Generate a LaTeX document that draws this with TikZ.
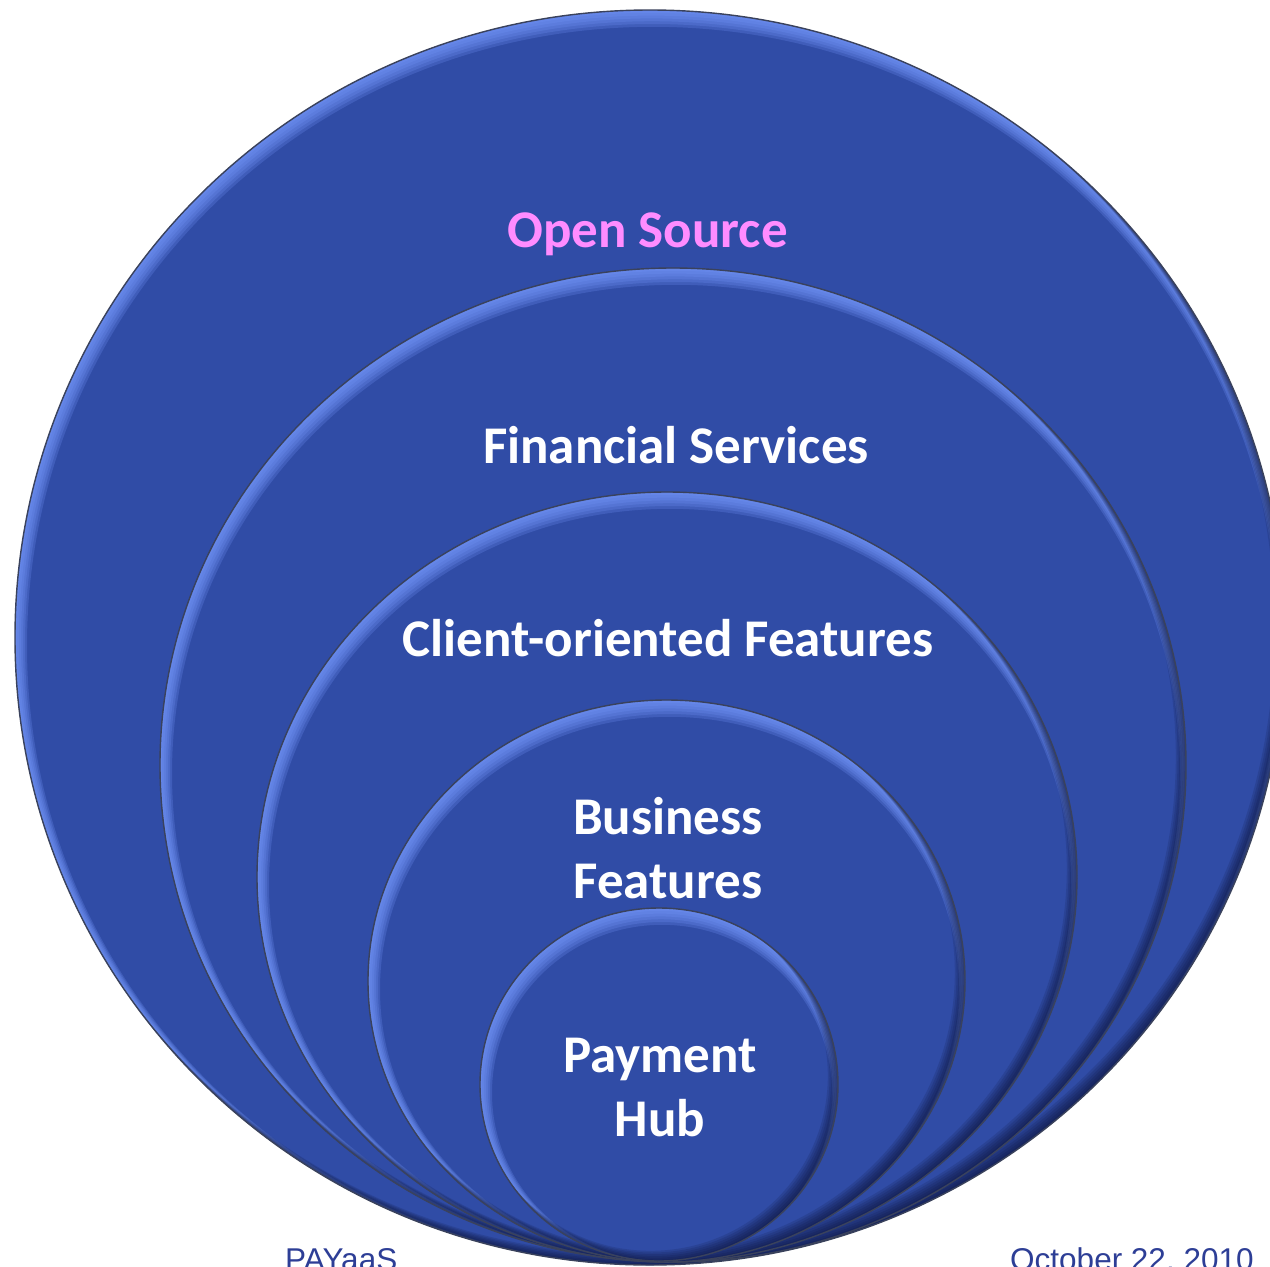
\documentclass[tikz,border=0pt]{standalone}
\usepackage{fontspec}
\setmainfont{Carlito}
\newfontfamily\footfont{Liberation Sans}
\definecolor{basefill}{RGB}{48,76,166}
\definecolor{hilite}{RGB}{115,150,250}
\definecolor{shadecol}{RGB}{10,16,50}
\definecolor{rimcol}{RGB}{58,66,92}
\definecolor{pinktext}{RGB}{255,140,255}
\definecolor{footcol}{RGB}{45,62,150}
\tikzset{
  lbl/.style={text=white, font=\bfseries\fontsize{53}{63}\selectfont, anchor=base, inner sep=0pt},
  foot/.style={text=footcol, font=\footfont\fontsize{31.5}{38}\selectfont, anchor=base west, inner sep=0pt},
  rim/.style={draw=rimcol, line width=1.4pt}
}
\newcommand\bevelellipse[4]{%
  \begin{scope}
    \clip (#1,#2) ellipse [x radius=#3, y radius=#4];
    \fill[basefill] (#1,#2) ellipse [x radius=#3, y radius=#4];
    \foreach \k in {1,...,6}{%
      \pgfmathsetmacro\hx{#1+0.5*\k}%
      \pgfmathsetmacro\hy{#2+1.4*\k}%
      \pgfmathsetmacro\hrx{#3-1.5*\k}%
      \pgfmathsetmacro\hry{#4-1.4*\k}%
      \fill[hilite, opacity=0.24, even odd rule]
        (#1,#2) ellipse [x radius=#3, y radius=#4]
        (\hx,\hy) ellipse [x radius=\hrx, y radius=\hry];
    }
    \foreach \k in {1,...,6}{%
      \pgfmathsetmacro\sx{#1-1.4*\k}%
      \pgfmathsetmacro\sy{#2-1.4*\k}%
      \pgfmathsetmacro\srx{#3-0.3*\k}%
      \pgfmathsetmacro\sry{#4-0.3*\k}%
      \fill[shadecol, opacity=0.14, even odd rule]
        (#1,#2) ellipse [x radius=#3, y radius=#4]
        (\sx,\sy) ellipse [x radius=\srx, y radius=\sry];
    }
  \end{scope}
  \draw[rim] (#1,#2) ellipse [x radius=#3, y radius=#4];
}
\begin{document}
\begin{tikzpicture}[x=1pt,y=-1pt]
  \useasboundingbox (0,0) rectangle (1270,1267);
  \fill[white] (0,0) rectangle (1270,1267);
  % nested circles, outermost first
  \bevelellipse{650}{637.5}{635}{627.5}
  \bevelellipse{673}{765}{513}{497}
  \bevelellipse{667}{877}{410}{385}
  \bevelellipse{666.5}{981}{298.5}{281}
  \bevelellipse{659}{1084.5}{179}{176.5}
  % labels
  \node[lbl, text=pinktext] (open) at (647.5,247) {Open Source};
  \node[lbl] (fin) at (676,463) {Financial Services};
  \node[lbl] (client) at (668,656) {Client-oriented Features};
  \node[lbl] (bus1) at (668,834) {Business};
  \node[lbl] (bus2) at (668,898) {Features};
  \node[lbl] (pay1) at (660,1072) {Payment};
  \node[lbl] (pay2) at (660,1136) {Hub};
  % footer (cut by the lower edge, as in the reference)
  \node[foot] (payaas) at (285,1270) {PAYaaS};
  \node[foot] (date) at (1010,1270) {October 22, 2010};
\end{tikzpicture}
\end{document}
